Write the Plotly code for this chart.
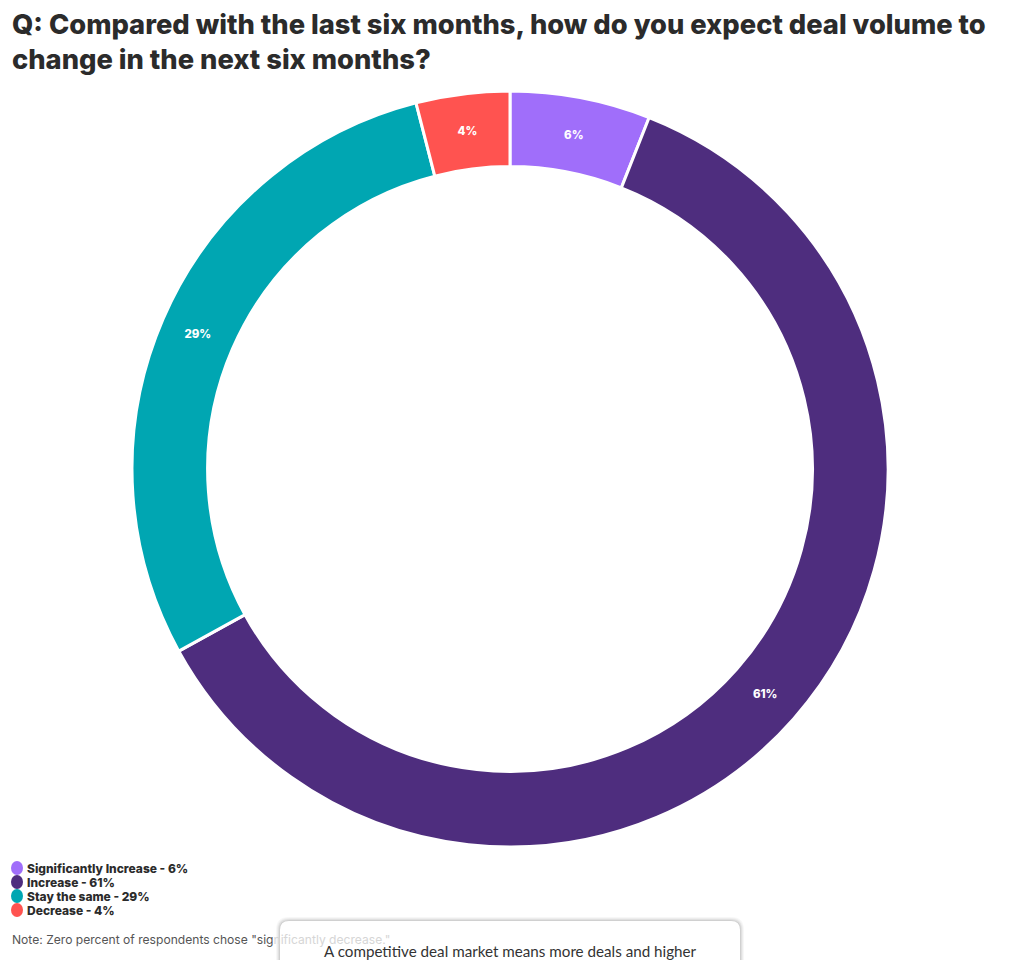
import plotly.graph_objects as go

categories = ["Significantly Increase", "Increase", "Stay the same", "Decrease"]
values = [6, 61, 29, 4]
colors = ["#A06EFA", "#4E2D7E", "#00A6B2", "#FF5350"]

title_text = "Q: Compared with the last six months, how do you expect deal volume to<br>change in the next six months?"
note_main = 'Note: Zero percent of respondents chose "sig'
note_faded = 'nificantly decrease."'
box_text = "A competitive deal market means more deals and higher"

W, H = 1020, 960

fig = go.Figure()
fig.add_trace(go.Pie(
    labels=categories,
    values=values,
    sort=False,
    direction="clockwise",
    rotation=0,
    hole=0.8,
    marker=dict(colors=colors, line=dict(color="white", width=3)),
    texttemplate="%{value}%",
    textposition="inside",
    insidetextorientation="horizontal",
    textfont=dict(family="Inter", size=11.5, color="white", weight=800),
    domain=dict(x=[0, 1], y=[(H - 847) / H, (H - 91) / H]),
    showlegend=False,
    hoverinfo="label+percent",
))

annotations = []
shapes = []

# Title
annotations.append(dict(
    text=title_text, xref="paper", yref="paper", x=10 / W, y=1 - 6 / H,
    xanchor="left", yanchor="top", align="left", showarrow=False,
    font=dict(family="Inter", size=27.3, color="#2b2b2b", weight=800),
))

# Legend (circles + text)
for i, (cat, val, col) in enumerate(zip(categories, values, colors)):
    yc = 868 + 14 * i
    shapes.append(dict(
        type="circle", xref="paper", yref="paper",
        x0=11 / W, x1=23 / W, y0=1 - (yc + 7) / H, y1=1 - (yc - 7) / H,
        fillcolor=col, line=dict(width=0),
    ))
    annotations.append(dict(
        text=f"{cat} - {val}%", xref="paper", yref="paper",
        x=25 / W, y=1 - yc / H, xanchor="left", yanchor="middle",
        showarrow=False, font=dict(family="Inter", size=12, color="#2b2b2b", weight=800),
    ))

# Note
annotations.append(dict(
    text=f'{note_main}<span style="color:#d6d6d6">{note_faded}</span>',
    xref="paper", yref="paper", x=10 / W, y=1 - 939 / H,
    xanchor="left", yanchor="middle", showarrow=False,
    font=dict(family="Inter", size=12.1, color="#555555"),
))

# Overlay box with shadow
def rounded_path(x0, y0, x1, y1, r):
    def p(x, y):
        return f"{x / W},{1 - y / H}"
    return (f"M {p(x0 + r, y0)} L {p(x1 - r, y0)} Q {p(x1, y0)} {p(x1, y0 + r)} "
            f"L {p(x1, y1)} L {p(x0, y1)} L {p(x0, y0 + r)} Q {p(x0, y0)} {p(x0 + r, y0)} Z")

for k, op in [(4, 0.03), (3, 0.04), (2, 0.05), (1, 0.07)]:
    shapes.append(dict(type="path", xref="paper", yref="paper",
                       path=rounded_path(280 - k, 921 - k, 740 + k, 965, 9 + k),
                       fillcolor=f"rgba(0,0,0,{op})", line=dict(width=0), layer="above"))
shapes.append(dict(type="path", xref="paper", yref="paper",
                   path=rounded_path(280, 921, 740, 965, 9),
                   fillcolor="white", line=dict(width=0), layer="above"))
annotations.append(dict(
    text=box_text, xref="paper", yref="paper", x=510 / W, y=1 - 951 / H,
    xanchor="center", yanchor="middle", showarrow=False,
    font=dict(family="Lato", size=15.2, color="#333333"),
))

fig.update_layout(
    width=W, height=H,
    margin=dict(l=0, r=0, t=0, b=0),
    paper_bgcolor="white", plot_bgcolor="white",
    annotations=annotations, shapes=shapes,
)

fig.write_html("out.html")
